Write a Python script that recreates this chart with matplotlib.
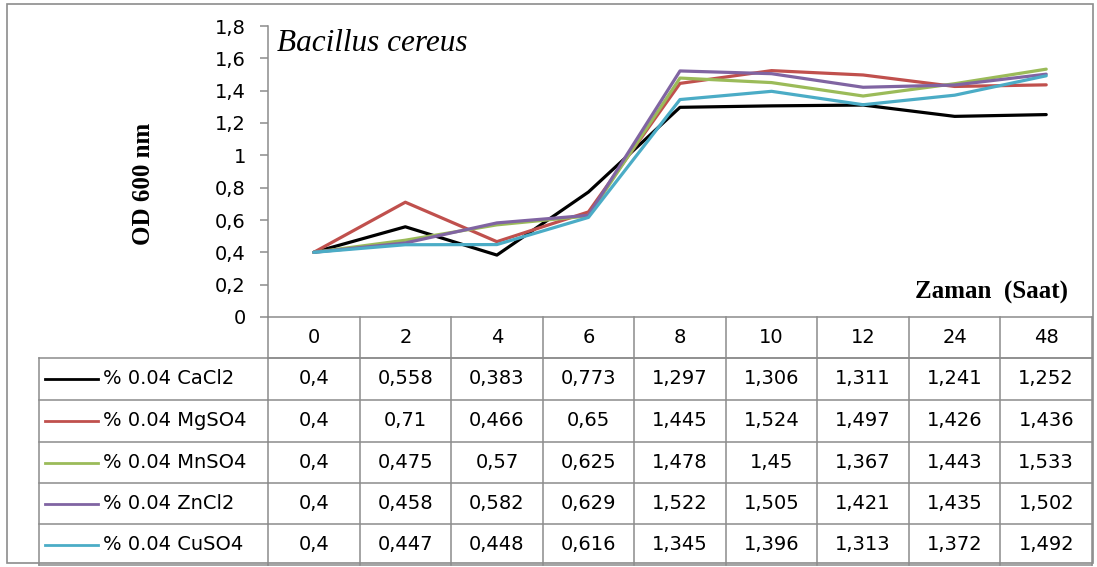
import numpy as np
import matplotlib
matplotlib.use("Agg")
import matplotlib.pyplot as plt
from matplotlib.transforms import blended_transform_factory
from matplotlib.lines import Line2D
from matplotlib.patches import Rectangle

# Sampling times (hours) and OD600 readings for each supplement
hours = ["0", "2", "4", "6", "8", "10", "12", "24", "48"]
cacl2 = [0.4, 0.558, 0.383, 0.773, 1.297, 1.306, 1.311, 1.241, 1.252]
mgso4 = [0.4, 0.71, 0.466, 0.65, 1.445, 1.524, 1.497, 1.426, 1.436]
mnso4 = [0.4, 0.475, 0.57, 0.625, 1.478, 1.45, 1.367, 1.443, 1.533]
zncl2 = [0.4, 0.458, 0.582, 0.629, 1.522, 1.505, 1.421, 1.435, 1.502]
cuso4 = [0.4, 0.447, 0.448, 0.616, 1.345, 1.396, 1.313, 1.372, 1.492]

series_names = ["% 0.04 CaCl2", "% 0.04 MgSO4", "% 0.04 MnSO4",
                "% 0.04 ZnCl2", "% 0.04 CuSO4"]
series_values = [cacl2, mgso4, mnso4, zncl2, cuso4]
series_colors = ["#000000", "#C0504D", "#9BBB59", "#8064A2", "#4BACC6"]

y_ticks = [0, 0.2, 0.4, 0.6, 0.8, 1.0, 1.2, 1.4, 1.6, 1.8]


def tr_num(v):
    """Format a number with a decimal comma."""
    return f"{v:g}".replace(".", ",")


W, H = 1097, 567
GRID = "#8c8c8c"
SANS = "DejaVu Sans"
SERIF = "Liberation Serif"
FS = 14

fig = plt.figure(figsize=(W / 100, H / 100), dpi=100)

# Full-page pixel canvas for frame, legend column and free text
page = fig.add_axes([0, 0, 1, 1], zorder=0)
page.set_xlim(0, W)
page.set_ylim(H, 0)
page.axis("off")

# Chart area
ax_l, ax_r, ax_t, ax_b = 268, 1092, 26, 317
ax = fig.add_axes([ax_l / W, (H - ax_b) / H, (ax_r - ax_l) / W, (ax_b - ax_t) / H],
                  zorder=1)
ax.patch.set_alpha(0)

x = np.arange(len(hours))
for vals, col in zip(series_values, series_colors):
    ax.plot(x, vals, color=col, lw=2.3, solid_capstyle="round",
            solid_joinstyle="round")

ax.set_xlim(-0.5, len(hours) - 0.5)
ax.set_ylim(0, 1.8)
ax.set_xticks([])
ax.set_yticks(y_ticks)
ax.set_yticklabels([tr_num(round(t, 1)) for t in y_ticks], fontsize=FS,
                   fontfamily=SANS)
ax.tick_params(axis="y", direction="out", length=6, width=1.1, color=GRID,
               pad=10)
for side in ("top", "right"):
    ax.spines[side].set_visible(False)
for side in ("left", "bottom"):
    ax.spines[side].set_color(GRID)
    ax.spines[side].set_linewidth(1.1)

ax.text(0.011, 0.94, "Bacillus cereus", transform=ax.transAxes,
        fontfamily=SERIF, fontstyle="italic", fontsize=22.5, va="center",
        ha="left")

# Data table below the chart: columns follow the category scale
tr = blended_transform_factory(ax.transData, page.transData)
header_top, header_bot = 317, 358
row_edges = [358, 400, 442, 483, 524, 565]
leg_left = 39

for b in np.arange(-0.5, len(hours), 1.0):
    page.add_line(Line2D([b, b], [header_top, row_edges[-1]], color=GRID,
                         lw=1.1, transform=tr, clip_on=False))
page.add_line(Line2D([-0.5, len(hours) - 0.5], [header_bot, header_bot],
                     color=GRID, lw=1.1, transform=tr, clip_on=False))
for e in row_edges:
    page.add_line(Line2D([leg_left, ax_l], [e, e], color=GRID, lw=1.1,
                         clip_on=False))
    page.add_line(Line2D([-0.5, len(hours) - 0.5], [e, e], color=GRID,
                         lw=1.1, transform=tr, clip_on=False))
page.add_line(Line2D([leg_left, leg_left], [row_edges[0], row_edges[-1]],
                     color=GRID, lw=1.1, clip_on=False))

for i, h in enumerate(hours):
    page.text(i, (header_top + header_bot) / 2, h, transform=tr, ha="center",
              va="center", fontsize=FS, fontfamily=SANS)

for r, (name, vals, col) in enumerate(zip(series_names, series_values,
                                          series_colors)):
    yc = (row_edges[r] + row_edges[r + 1]) / 2
    page.add_line(Line2D([45, 98], [yc, yc], color=col, lw=2.0))
    page.text(103, yc, name, ha="left", va="center", fontsize=FS,
              fontfamily=SANS)
    for i, v in enumerate(vals):
        page.text(i, yc, tr_num(v), transform=tr, ha="center", va="center",
                  fontsize=FS, fontfamily=SANS)

# Axis titles
page.text(143, 184, "OD 600 nm", rotation=90, ha="center", va="center",
          fontfamily=SERIF, fontweight="bold", fontsize=18)
page.text(1068, 292, "Zaman  (Saat)", ha="right", va="center",
          fontfamily=SERIF, fontweight="bold", fontsize=18)

# Outer chart frame
page.add_patch(Rectangle((7, 4), 1086, 559, fill=False, edgecolor=GRID,
                         lw=1.2))

fig.savefig("out.png", dpi=100)
